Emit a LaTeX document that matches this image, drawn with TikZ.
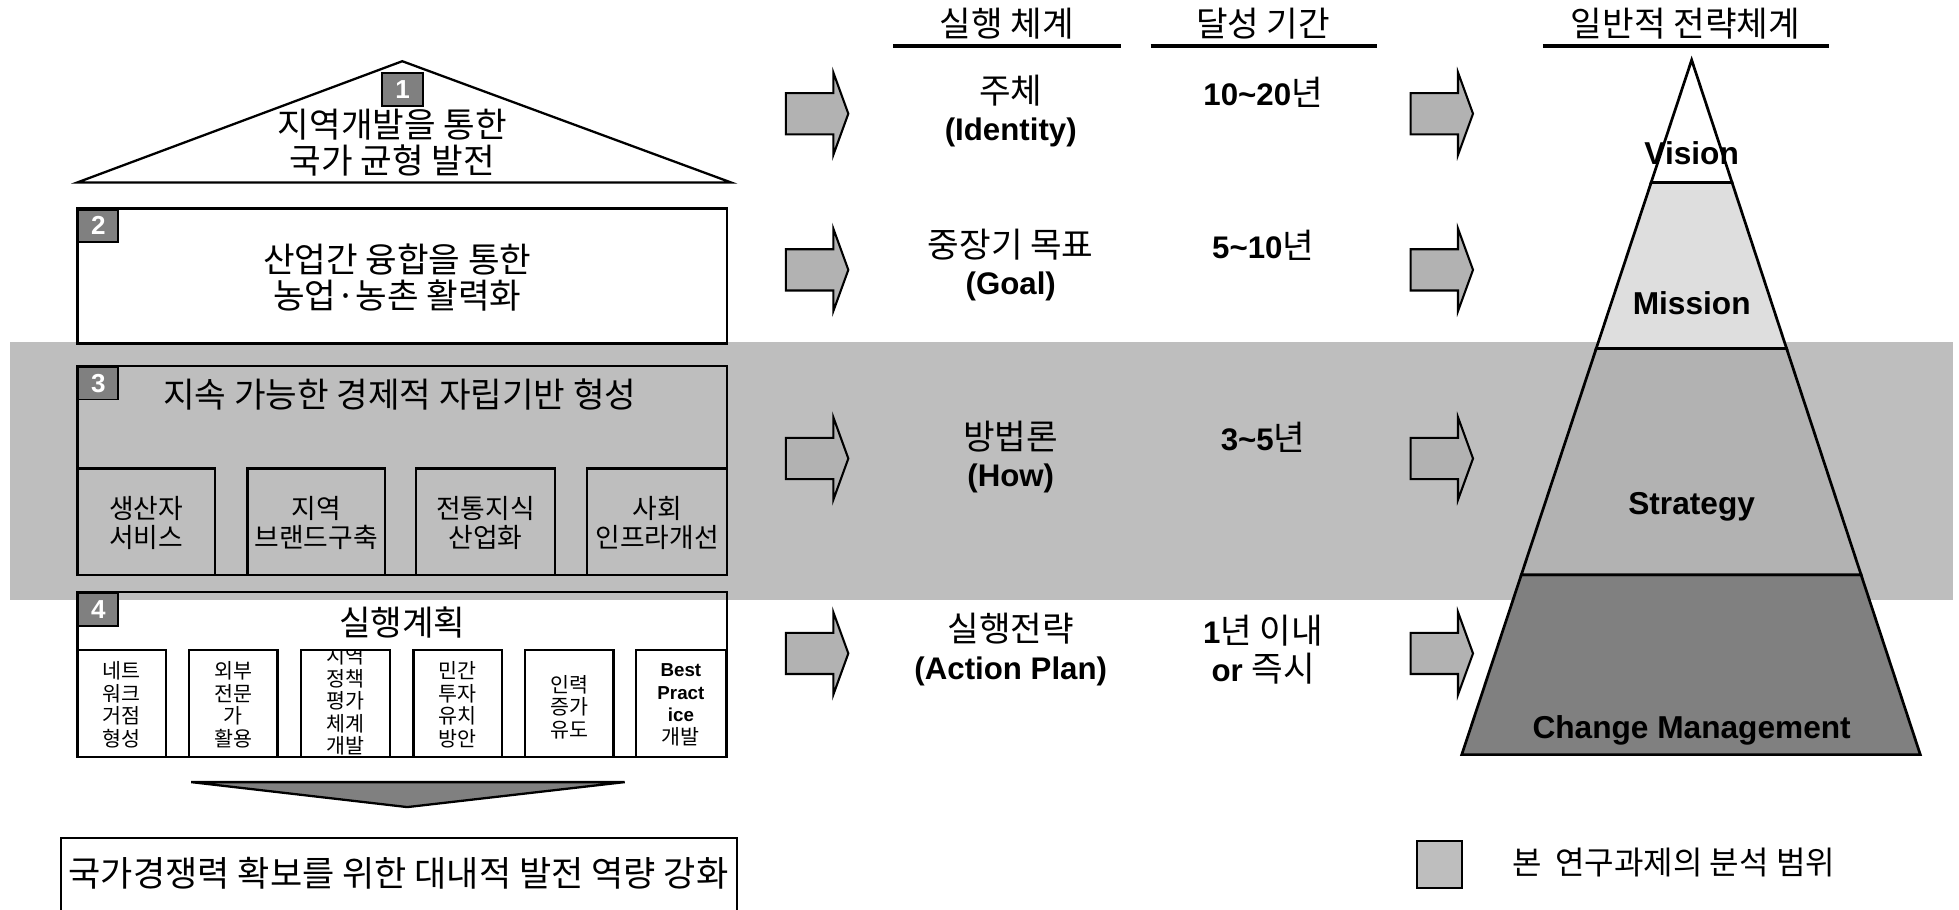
\documentclass[tikz,border=0pt]{standalone}
\usepackage{fontspec}
\setmainfont{Liberation Sans}
\newfontfamily\kr[Scale=1.1]{Noto Sans CJK KR}
\newcommand\en{\rmfamily\bfseries}

\definecolor{bandgray}{gray}{0.745}
\definecolor{arrowgray}{gray}{0.70}
\definecolor{palegray}{gray}{0.87}
\definecolor{deepgray}{gray}{0.50}

\tikzset{
  frame/.style={draw=black, line width=1.1pt},
  numbox/.style={draw=black, line width=0.9pt, fill=deepgray, text=white,
    font=\bfseries\fontsize{12.5}{12.5}\selectfont, minimum width=19.2pt,
    minimum height=15.6pt, inner sep=0pt, anchor=north west},
  bigkor/.style={font=\kr\fontsize{15}{17.4}\selectfont, align=center, inner sep=0pt},
  headkor/.style={font=\kr\fontsize{15}{17}\selectfont, inner sep=0pt},
  subkor/.style={font=\kr\fontsize{11.7}{13.8}\selectfont, align=center, inner sep=0pt},
  smallkor/.style={font=\kr\fontsize{9}{10.8}\selectfont, align=center, inner sep=0pt},
  midtext/.style={font=\fontsize{15}{18}\selectfont, align=center, inner sep=0pt},
  pyrlabel/.style={font=\bfseries\fontsize{15.2}{18}\selectfont, inner sep=0pt},
  blockarrow/.style={draw=black, line width=1pt, fill=arrowgray, line join=miter},
  rule/.style={line width=1.8pt},
}

\begin{document}
\begin{tikzpicture}[x=0.6pt, y=-0.6pt]
    \useasboundingbox (0,0) rectangle (1568,728);

    % analysis band
    \fill[bandgray] (8,274) rectangle (1563,480);

    % roof
    \draw[frame, line join=miter] (62,146) -- (322,49) -- (585,146) -- cycle;
    \node[numbox, minimum width=19.8pt] (num1) at (305,58) {1};
    \node[bigkor] (vision) at (314,114) {지역개발을 통한\\국가 균형 발전};

    % box 2
    \draw[frame] (62,167) rectangle (582,275);
    \node[numbox] (num2) at (62,167) {2};
    \node[bigkor] (fusion) at (318,222) {산업간 융합을 통한\\농업·농촌 활력화};

    % box 3
    \draw[frame] (62,293) rectangle (582,460);
    \node[numbox] (num3) at (62,293) {3};
    \node[bigkor] (selfbase) at (320,316) {지속 가능한 경제적 자립기반 형성};
    \foreach \xa/\xb/\nm/\txt in {62/172/producer/{생산자\\서비스},
        198/308/brand/{지역\\브랜드구축}, 333/444/tradition/{전통지식\\산업화},
        470/582/infra/{사회\\인프라개선}}{
      \draw[frame] (\xa,375) rectangle (\xb,460);
      \node[subkor] (\nm) at ({(\xa+\xb)/2},418.5) {\txt};
    }

    % box 4
    \draw[frame] (62,474) rectangle (582,606);
    \node[numbox] (num4) at (62,474) {4};
    \node[bigkor] (plan) at (322,498) {실행계획};
    \foreach \xa/\xb/\yc/\nm/\txt in {62/133/564/network/{네트\\워크\\거점\\형성},
        151/222/564/expert/{외부\\전문\\가\\활용}, 331/402/564/invest/{민간\\투자\\유치\\방안},
        420/491/566/labour/{인력\\증가\\유도},
        509/581/564/practice/{{\en Best}\\{\en Pract}\\{\en ice}\\개발}}{
      \draw[frame] (\xa,520) rectangle (\xb,606);
      \node[smallkor] (\nm) at ({(\xa+\xb)/2},\yc) {\txt};
    }
    \begin{scope}
      \clip (241,520) rectangle (312,606);
      \node[smallkor] (policy) at (276.5,561) {지역\\정책\\평가\\체계\\개발};
    \end{scope}
    \draw[frame] (241,520) rectangle (312,606);

    % down wedge and result
    \draw[frame, fill=deepgray, line join=miter] (153,626) -- (500,626) -- (326,646) -- cycle;
    \draw[frame] (49,728) |- (590,671) -- (590,728);
    \node[bigkor, font=\kr\fontsize{15.3}{18}\selectfont] (result) at (319,699)
      {국가경쟁력 확보를 위한 대내적 발전 역량 강화};

    % headers
    \node[headkor] (hsystem) at (806,19) {실행 체계};
    \node[headkor] (hperiod) at (1011,19) {달성 기간};
    \node[headkor] (hgeneral) at (1349,19) {일반적 전략체계};
    \draw[rule] (715,37) -- (897,37);
    \draw[rule] (921,37) -- (1102,37);
    \draw[rule] (1235,37) -- (1464,37);

    % arrows
    \foreach \x in {629,1129}
      \foreach \y in {91,216,367,523}
        \draw[blockarrow] (\x,\y-16.5) -- ++(38,0) -- ++(0,-16.5) -- ++(12,33)
          -- ++(-12,33) -- ++(0,-16.5) -- ++(-38,0) -- cycle;

    % execution system
    \node[midtext] (identity) at (809,89) {{\kr 주체}\\{\bfseries (Identity)}};
    \node[midtext] (goal) at (809,212) {{\kr 중장기 목표}\\{\bfseries (Goal)}};
    \node[midtext] (how) at (809,366) {{\kr 방법론}\\{\bfseries (How)}};
    \node[midtext] (action) at (809,520) {{\kr 실행전략}\\{\bfseries (Action Plan)}};

    % periods
    \node[midtext] (p1) at (1011,74) {{\bfseries 10\textasciitilde20}{\kr 년}};
    \node[midtext] (p2) at (1011,196) {{\bfseries 5\textasciitilde10}{\kr 년}};
    \node[midtext] (p3) at (1011,350) {{\bfseries 3\textasciitilde5}{\kr 년}};
    \node[midtext] (p4) at (1011,520) {{\bfseries 1}{\kr 년 이내}\\{\bfseries or} {\kr 즉시}};

    % pyramid
    \draw[line width=1.3pt, fill=deepgray, line join=miter] (1217.7,460) -- (1489.6,460) -- (1537,604) -- (1170,604) -- cycle;
    \draw[line width=1.3pt, fill=arrowgray, line join=miter] (1277.6,279) -- (1430,279) -- (1489.6,460) -- (1217.7,460) -- cycle;
    \draw[line width=1.3pt, fill=palegray, line join=miter] (1321.6,146) -- (1386.3,146) -- (1430,279) -- (1277.6,279) -- cycle;
    \draw[line width=1.3pt, fill=white, line join=miter] (1354,48) -- (1386.3,146) -- (1321.6,146) -- cycle;
    \node[pyrlabel] (lvision) at (1354,123) {Vision};
    \node[pyrlabel] (lmission) at (1354,243) {Mission};
    \node[pyrlabel] (lstrategy) at (1354,406) {Strategy};
    \node[pyrlabel] (lchange) at (1354,585) {Change Management};

    % legend
    \draw[frame, fill=bandgray] (1134,673) rectangle (1170,711);
    \node[headkor, font=\kr\fontsize{14}{17}\selectfont, anchor=west] (scope) at (1210,690)
      {본\hspace{0.2em} 연구과제의 분석 범위};
\end{tikzpicture}
\end{document}
